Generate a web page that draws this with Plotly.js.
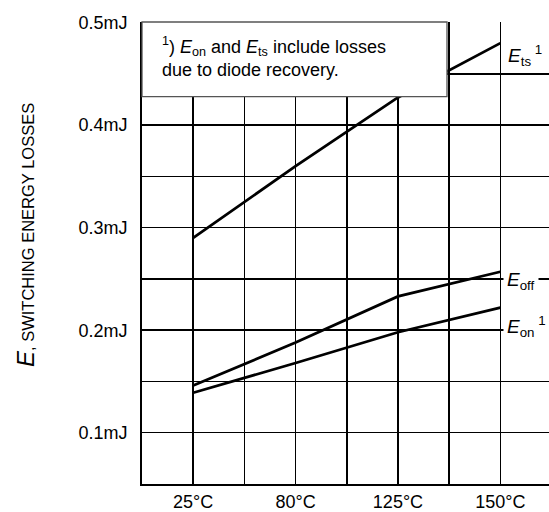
<!DOCTYPE html>
<html>
<head>
<meta charset="utf-8">
<script src="https://cdn.plot.ly/plotly-3.0.1.min.js"></script>
<style>html,body{margin:0;padding:0;background:#fff;}</style>
</head>
<body>
<div id="chart" style="width:549px;height:512px;"></div>
<script>
// Junction temperature categories (tick labels)
const temps = ["25°C", "80°C", "125°C", "150°C"];
// Switching energy losses in mJ
const eTs  = [0.290, 0.360, 0.427, 0.480];
const eOff = [0.146, 0.188, 0.233, 0.257];
const eOn  = [0.139, 0.168, 0.198, 0.222];
// Y tick values / labels
const yTickVals = [0.1, 0.2, 0.3, 0.4, 0.5];
const yTickText = ["0.1mJ", "0.2mJ", "0.3mJ", "0.4mJ", "0.5mJ"];

const FONT = "Arial, 'Liberation Sans', sans-serif";
const lineStyle = {color: "#000", width: 2.8};

const traces = [
  {x: temps, y: eTs,  type: "scatter", mode: "lines", line: lineStyle, name: "Ets", hoverinfo: "skip"},
  {x: temps, y: eOff, type: "scatter", mode: "lines", line: lineStyle, name: "Eoff", hoverinfo: "skip"},
  {x: temps, y: eOn,  type: "scatter", mode: "lines", line: lineStyle, name: "Eon", hoverinfo: "skip"},
  {x: [], y: [], xaxis: "x2", yaxis: "y", type: "scatter", mode: "lines", showlegend: false, hoverinfo: "skip"}
];

const layout = {
  width: 549, height: 512,
  margin: {l: 142, r: 0, t: 22, b: 28},
  paper_bgcolor: "#fff", plot_bgcolor: "#fff",
  showlegend: false,
  font: {family: FONT, color: "#000", size: 18},
  xaxis: {
    type: "category", categoryorder: "array", categoryarray: temps,
    range: [-0.5, 3.475],
    showgrid: false, zeroline: false,
    showline: true, linecolor: "#000", linewidth: 1.8,
    ticks: "", tickfont: {family: FONT, size: 18, color: "#000"},
    ticklabelstandoff: 1,
    fixedrange: true
  },
  xaxis2: {
    overlaying: "x", anchor: "y", side: "bottom", type: "linear",
    range: [-0.5, 3.475], tick0: 0, dtick: 0.5,
    showgrid: true, gridcolor: "#000", gridwidth: 1.5,
    showticklabels: false, ticks: "", zeroline: false, showline: false,
    fixedrange: true
  },
  yaxis: {
    range: [0.05, 0.5006],
    tickmode: "array", tickvals: yTickVals, ticktext: yTickText,
    showgrid: true, gridcolor: "#000", gridwidth: 1.5,
    minor: {tick0: 0.05, dtick: 0.05, showgrid: true, gridcolor: "#000", gridwidth: 1.5, ticks: ""},
    zeroline: false,
    showline: true, linecolor: "#000", linewidth: 1.8,
    ticks: "", tickfont: {family: FONT, size: 18, color: "#000"},
    ticklabelstandoff: 9,
    fixedrange: true
  },
  shapes: [
    {type: "rect", xref: "paper", yref: "paper", layer: "above",
     x0: 0, x1: (447 - 142) / 407, y0: (484 - 96.7) / 462, y1: 1,
     fillcolor: "#fff", line: {color: "#555", width: 1.3}}
  ],
  annotations: [
    {xref: "paper", yref: "paper", x: (160 - 142) / 407, y: (484 - 56.5) / 462,
     xanchor: "left", yanchor: "middle", align: "left", showarrow: false,
     text: "<sup>1</sup>) <i>E</i><sub>on</sub> and <i>E</i><sub>ts</sub> include losses<br>due to diode recovery.",
     font: {family: FONT, size: 18, color: "#000"}},
    {xref: "paper", yref: "y", x: (506 - 142) / 407, y: 0.468,
     xanchor: "left", yanchor: "middle", showarrow: false,
     text: "<i>E</i><sub>ts</sub><sup> 1</sup>", bgcolor: "#fff", borderpad: 1,
     font: {family: FONT, size: 19, color: "#000"}},
    {xref: "paper", yref: "y", x: (503 - 142) / 407, y: 0.248,
     xanchor: "left", yanchor: "middle", showarrow: false,
     text: "<i>E</i><sub>off</sub>", bgcolor: "#fff", borderpad: 3,
     font: {family: FONT, size: 19, color: "#000"}},
    {xref: "paper", yref: "y", x: (503 - 142) / 407, y: 0.204,
     xanchor: "left", yanchor: "middle", showarrow: false,
     text: "<i>E</i><sub>on</sub><sup> 1</sup>", bgcolor: "#fff", borderpad: 3,
     font: {family: FONT, size: 19, color: "#000"}},
    {xref: "paper", yref: "paper", x: (25 - 142) / 407, y: (484 - 235) / 462,
     xanchor: "center", yanchor: "middle", showarrow: false, textangle: -90,
     text: "<span style=\"font-size:24px\"><i>E</i></span>, SWITCHING ENERGY LOSSES",
     font: {family: FONT, size: 16.5, color: "#000"}}
  ]
};

Plotly.newPlot("chart", traces, layout, {displayModeBar: false, staticPlot: true});
</script>
</body>
</html>
